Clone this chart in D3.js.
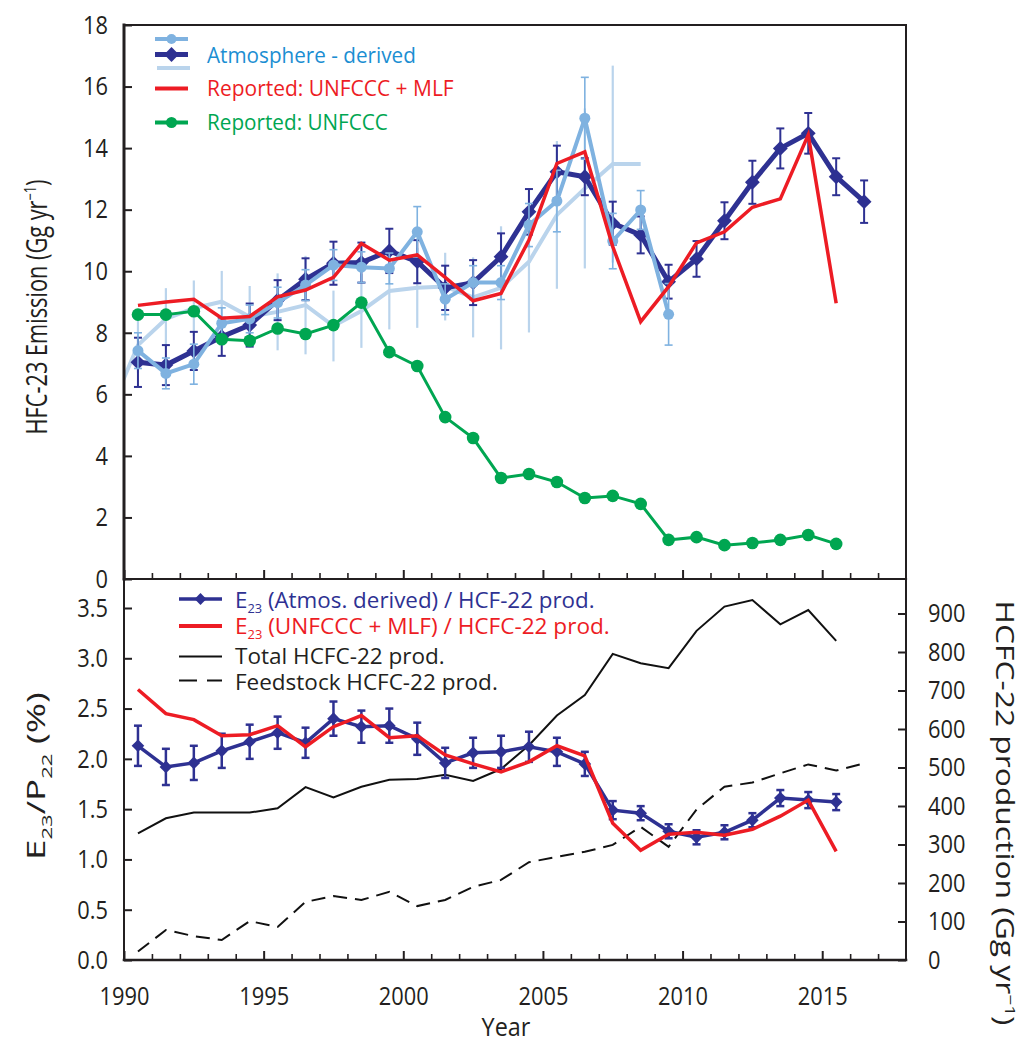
<!DOCTYPE html>
<html><head><meta charset="utf-8">
<script src="https://cdn.jsdelivr.net/npm/d3@7/dist/d3.min.js"></script>
<style>body{margin:0;background:#fff}</style>
</head><body>
<svg id="c" width="1022" height="1044"></svg>
<script>
// ---------------- DATA ----------------
// Upper panel: HFC-23 emissions (Gg/yr); value for a year is plotted at mid-year
const yearsAtmos = d3.range(1990, 2017);
const atmosDerived = [7.04,6.95,7.41,7.87,8.25,9.06,9.74,10.26,10.28,10.66,10.31,9.46,9.63,10.47,11.93,13.23,13.07,11.56,11.18,9.66,10.40,11.64,12.89,13.99,14.48,13.07,12.26];
const atmosDerivedErr = [0.8,0.65,0.62,0.62,0.7,0.65,0.68,0.7,0.65,0.72,0.7,0.72,0.73,0.76,0.74,0.85,0.6,0.7,0.6,0.55,0.58,0.6,0.7,0.65,0.66,0.6,0.69];

const yearsAtmos2 = d3.range(1990, 2010);
const atmos2 = [7.42,6.68,6.98,8.31,8.45,8.98,9.55,10.2,10.13,10.09,11.28,9.09,9.63,9.63,11.5,12.28,14.97,10.98,11.99,8.6];
const atmos2Err = [0.58,0.5,0.65,0.5,0.45,0.5,0.5,0.5,0.5,0.5,0.82,0.5,0.55,0.55,0.7,1.0,1.33,0.9,0.63,1.0];

const yearsAtmos3 = d3.range(1989, 2009);
const atmos3 = [5.45,7.6,8.45,8.8,9.01,8.52,8.68,8.9,8.22,8.71,9.36,9.46,9.5,9.15,9.46,10.31,11.83,12.69,13.48,13.48];
const atmos3Err = [null,0.9,1.0,0.9,1.0,1.0,1.25,1.6,1.15,1.2,1.25,1.3,1.1,1.3,2.0,2.3,2.4,2.6,3.2,null];

const yearsReported = d3.range(1990, 2016);
const reportedUnfcccMlf = [8.89,9.0,9.09,8.47,8.53,9.17,9.39,9.80,10.9,10.36,10.53,9.80,9.04,9.28,11.01,13.5,13.88,10.8,8.36,9.5,10.92,11.28,12.08,12.35,14.43,8.96];
const reportedUnfccc = [8.59,8.59,8.70,7.79,7.74,8.14,7.96,8.25,8.98,7.37,6.92,5.26,4.58,3.28,3.41,3.15,2.63,2.70,2.44,1.27,1.36,1.10,1.17,1.27,1.43,1.14];

// Lower panel: E23/P22 (%) and HCFC-22 production (Gg/yr)
const yearsRatio = d3.range(1990, 2016);
const ratioAtmos = [2.13,1.92,1.96,2.08,2.17,2.26,2.16,2.40,2.32,2.33,2.20,1.96,2.06,2.07,2.12,2.07,1.95,1.49,1.46,1.28,1.22,1.27,1.39,1.61,1.59,1.57];
const ratioAtmosErr = [0.2,0.18,0.17,0.17,0.17,0.16,0.15,0.17,0.16,0.17,0.16,0.15,0.15,0.16,0.15,0.14,0.12,0.09,0.07,0.07,0.07,0.07,0.07,0.08,0.08,0.08];
const ratioReported = [2.69,2.45,2.39,2.23,2.24,2.33,2.12,2.32,2.43,2.21,2.23,2.04,1.95,1.87,1.97,2.13,2.03,1.36,1.09,1.25,1.27,1.24,1.30,1.43,1.59,1.08];
const yearsTotal = d3.range(1990, 2016);
const totalProd = [329,368,383,383,383,394,449,422,450,468,470,481,465,496,558,635,688,795,771,758,855,918,935,872,909,829];
const yearsFeed = d3.range(1990, 2017);
const feedstockProd = [22,78,62,52,101,86,151,166,156,177,140,156,190,208,254,268,281,299,346,294,391,450,461,485,508,492,511];

const topTicks = d3.range(0, 19, 2);
const ratioTicks = [0, 0.5, 1.0, 1.5, 2.0, 2.5, 3.0, 3.5];
const prodTicks = d3.range(0, 901, 100);
const yearLabels = [1990, 1995, 2000, 2005, 2010, 2015];

// ---------------- SETUP ----------------
const FONT = "'Open Sans','Noto Sans',sans-serif";
const C = {dark:'#2e3192', light:'#7fb2e0', pale:'#bad4ec', red:'#ed1c24', green:'#00a651', ink:'#231f20', legBlue:'#1b8ed2'};
const svg = d3.select('#c');
svg.append('rect').attr('width',1022).attr('height',1044).attr('fill','#fff');

const x = d3.scaleLinear().domain([1990, 2018]).range([124, 906]);
const mid = yr => x(yr + 0.5);
const yT = d3.scaleLinear().domain([0, 18]).range([579, 25]);
const yB = d3.scaleLinear().domain([0, 3.5]).range([960, 608]);
const yR = d3.scaleLinear().domain([0, 900]).range([960, 613.5]);

const defs = svg.append('defs');
defs.append('clipPath').attr('id','clipTop').append('rect')
  .attr('x', x(1990)).attr('y', yT(18)).attr('width', x(2018)-x(1990)).attr('height', yT(0)-yT(18));

const zip = (yrs, vals, errs) => yrs.map((yr,i)=>({yr, v:vals[i], e: errs ? errs[i] : null}));

function putText(parent, o, build) {
  const g = parent.append('g');
  const t = g.append('text').attr('font-family', FONT).attr('font-size', o.size)
    .attr('fill', o.color || C.ink).attr('text-anchor', o.anchor || 'start');
  build(t);
  let k = o.k || 1;
  if (o.target) k = o.target / t.node().getBBox().width;
  g.attr('transform', `translate(${o.x},${o.y}) rotate(${o.rot||0}) scale(${k},1)`);
  return g;
}

function errBars(g, data, yS, color, w, cap) {
  const d = data.filter(p => p.e != null);
  g.selectAll(null).data(d).join('line')
    .attr('x1', p=>mid(p.yr)).attr('x2', p=>mid(p.yr))
    .attr('y1', p=>yS(p.v+p.e)).attr('y2', p=>yS(p.v-p.e))
    .attr('stroke', color).attr('stroke-width', w);
  if (cap) {
    ['+','-'].forEach(s => {
      g.selectAll(null).data(d).join('line')
        .attr('x1', p=>mid(p.yr)-cap).attr('x2', p=>mid(p.yr)+cap)
        .attr('y1', p=>yS(s==='+'?p.v+p.e:p.v-p.e)).attr('y2', p=>yS(s==='+'?p.v+p.e:p.v-p.e))
        .attr('stroke', color).attr('stroke-width', w);
    });
  }
}
function linePath(g, data, yS, color, w, dash) {
  const p = g.append('path').datum(data)
    .attr('d', d3.line().x(p=>mid(p.yr)).y(p=>yS(p.v)))
    .attr('fill','none').attr('stroke', color).attr('stroke-width', w)
    .attr('stroke-linejoin','miter').attr('stroke-linecap','butt');
  if (dash) p.attr('stroke-dasharray', dash);
  return p;
}
const diamond = size => d3.symbol().type(d3.symbolSquare).size(size)();
function diamonds(g, data, yS, color, size) {
  g.selectAll(null).data(data).join('path').attr('d', diamond(size))
    .attr('transform', p=>`translate(${mid(p.yr)},${yS(p.v)}) rotate(45)`).attr('fill', color);
}
function circles(g, data, yS, color, r) {
  g.selectAll(null).data(data).join('circle').attr('cx', p=>mid(p.yr)).attr('cy', p=>yS(p.v)).attr('r', r).attr('fill', color);
}

// ---------------- UPPER PANEL ----------------
const up = svg.append('g').attr('clip-path','url(#clipTop)');
const dAtm = zip(yearsAtmos, atmosDerived, atmosDerivedErr);
const dAtm2 = zip(yearsAtmos2, atmos2, atmos2Err);
const dAtm3 = zip(yearsAtmos3, atmos3, atmos3Err);
errBars(up, dAtm3, yT, C.pale, 2.2, 0);
linePath(up, dAtm3, yT, C.pale, 4);
errBars(up, dAtm, yT, C.dark, 2, 4);
linePath(up, dAtm, yT, C.dark, 5);
diamonds(up, dAtm, yT, C.dark, 110);
errBars(up, dAtm2, yT, C.light, 1.6, 4);
linePath(up, dAtm2, yT, C.light, 4);
circles(up, dAtm2, yT, C.light, 5.5);
linePath(up, zip(yearsReported, reportedUnfcccMlf), yT, C.red, 3.5);
const dGreen = zip(yearsReported, reportedUnfccc);
linePath(up, dGreen, yT, C.green, 3);
circles(up, dGreen, yT, C.green, 6.3);

// ---------------- LOWER PANEL ----------------
const lo = svg.append('g');
linePath(lo, zip(yearsTotal, totalProd), yR, '#111', 2);
linePath(lo, zip(yearsFeed, feedstockProd), yR, '#111', 2, '14,8');
const dRat = zip(yearsRatio, ratioAtmos, ratioAtmosErr);
errBars(lo, dRat, yB, C.dark, 2.5, 4);
linePath(lo, dRat, yB, C.dark, 3.5);
diamonds(lo, dRat, yB, C.dark, 80);
linePath(lo, zip(yearsRatio, ratioReported), yB, C.red, 3.5);

// ---------------- AXES ----------------
const TK = 0.84, TFS = 26;
function styleTicks(g, sw) {
  g.attr('font-family', FONT).attr('font-size', TFS).attr('color', C.ink);
  g.select('.domain').remove();
  g.selectAll('.tick line').attr('stroke-width', sw);
  g.selectAll('.tick text').each(function(){
    const t = d3.select(this);
    const xx = +t.attr('x') || 0;
    t.attr('x', xx / TK).attr('transform', `scale(${TK},1)`).attr('fill', C.ink);
  });
}
// upper left
svg.append('g').attr('transform', `translate(${x(1990)},0)`)
  .call(d3.axisLeft(yT).tickValues(topTicks).tickSizeInner(-8).tickSizeOuter(0).tickPadding(16))
  .call(g => styleTicks(g, 2));
// lower left
svg.append('g').attr('transform', `translate(${x(1990)},0)`)
  .call(d3.axisLeft(yB).tickValues(ratioTicks).tickFormat(d3.format('.1f')).tickSizeInner(-8).tickSizeOuter(0).tickPadding(16))
  .call(g => styleTicks(g, 2));
// right
svg.append('g').attr('transform', `translate(${x(2018)},0)`)
  .call(d3.axisRight(yR).tickValues(prodTicks).tickSizeInner(-8).tickSizeOuter(0).tickPadding(22))
  .call(g => styleTicks(g, 2));
// x ticks on both panels
function xTicks(yPos, labels) {
  const minor = d3.range(1991, 2018).filter(v => v % 5 !== 0);
  svg.append('g').attr('transform', `translate(0,${yPos})`)
    .call(d3.axisBottom(x).tickValues(minor).tickSizeInner(-6).tickSizeOuter(0).tickFormat(''))
    .call(g => styleTicks(g, 1.6));
  svg.append('g').attr('transform', `translate(0,${yPos})`)
    .call(d3.axisBottom(x).tickValues(yearLabels).tickSizeInner(-9).tickSizeOuter(0).tickPadding(27)
      .tickFormat(labels ? d3.format('d') : ''))
    .call(g => styleTicks(g, 2));
}
xTicks(yT(0), false);
xTicks(yB(0), true);

// frame
const fr = svg.append('g').attr('stroke', C.ink).attr('fill','none').attr('stroke-linecap','square');
fr.append('line').attr('x1', x(1990)).attr('x2', x(1990)).attr('y1', yT(18)).attr('y2', yT(0)).attr('stroke-width', 3);
fr.append('line').attr('x1', x(1990)).attr('x2', x(1990)).attr('y1', yT(0)).attr('y2', yB(0)).attr('stroke-width', 2);
fr.append('line').attr('x1', x(1990)).attr('x2', x(2018)).attr('y1', yT(18)).attr('y2', yT(18)).attr('stroke-width', 2);
fr.append('line').attr('x1', x(1990)).attr('x2', x(2018)).attr('y1', yT(0)).attr('y2', yT(0)).attr('stroke-width', 2.2);
fr.append('line').attr('x1', x(1990)).attr('x2', x(2018)).attr('y1', yB(0)).attr('y2', yB(0)).attr('stroke-width', 2.6);
fr.append('line').attr('x1', x(2018)).attr('x2', x(2018)).attr('y1', yT(18)).attr('y2', yB(0)).attr('stroke-width', 2);

// axis titles
putText(svg, {x:47, y:307, rot:-90, size:29, anchor:'middle', target:255}, t => {
  t.append('tspan').text('HFC-23 Emission (Gg yr');
  t.append('tspan').attr('font-size', 17).attr('dy', -11).text('−1');
  t.append('tspan').attr('dy', 11).text(')');
});
putText(svg, {x:45, y:776, rot:-90, size:25, anchor:'middle', target:168}, t => {
  t.append('tspan').text('E');
  t.append('tspan').attr('font-size', 15).attr('dy', 7).text('23');
  t.append('tspan').attr('dy', -7).text('/P');
  t.append('tspan').attr('font-size', 15).attr('dy', 7).text('22');
  t.append('tspan').attr('dy', -7).text(' (%)');
});
putText(svg, {x:996, y:813, rot:90, size:25, anchor:'middle', target:425}, t => {
  t.append('tspan').text('HCFC-22 production  (Gg yr');
  t.append('tspan').attr('font-size', 15).attr('dy', -9).text('−1');
  t.append('tspan').attr('dy', 9).text(')');
});
putText(svg, {x:506, y:1036, size:26, anchor:'middle', k:0.9}, t => t.text('Year'));

// ---------------- LEGENDS ----------------
const lg = svg.append('g');
// upper
lg.append('line').attr('x1',155).attr('x2',188).attr('y1',39).attr('y2',39).attr('stroke',C.light).attr('stroke-width',4);
lg.append('circle').attr('cx',171.5).attr('cy',39).attr('r',5).attr('fill',C.light);
lg.append('line').attr('x1',155).attr('x2',188).attr('y1',54.5).attr('y2',54.5).attr('stroke',C.dark).attr('stroke-width',5);
lg.append('path').attr('d', diamond(110)).attr('transform','translate(171.5,54.5) rotate(45)').attr('fill',C.dark);
lg.append('line').attr('x1',157).attr('x2',190).attr('y1',68).attr('y2',68).attr('stroke',C.pale).attr('stroke-width',4);
putText(lg, {x:207, y:63, size:21, color:C.legBlue, target:209}, t => t.text('Atmosphere - derived'));
lg.append('line').attr('x1',155).attr('x2',188).attr('y1',88.5).attr('y2',88.5).attr('stroke',C.red).attr('stroke-width',4);
putText(lg, {x:207, y:96, size:21, color:C.red, target:247}, t => t.text('Reported: UNFCCC + MLF'));
lg.append('line').attr('x1',155).attr('x2',188).attr('y1',122.5).attr('y2',122.5).attr('stroke',C.green).attr('stroke-width',4);
lg.append('circle').attr('cx',171.5).attr('cy',122.5).attr('r',5.5).attr('fill',C.green);
putText(lg, {x:207, y:130, size:21, color:C.green, target:181}, t => t.text('Reported: UNFCCC'));

// lower
lg.append('line').attr('x1',179).attr('x2',222).attr('y1',599).attr('y2',599).attr('stroke',C.dark).attr('stroke-width',3.5);
lg.append('path').attr('d', diamond(70)).attr('transform','translate(200.5,599) rotate(45)').attr('fill',C.dark);
putText(lg, {x:235, y:608, size:21, color:C.dark, target:360}, t => {
  t.append('tspan').text('E');
  t.append('tspan').attr('font-size', 12).attr('dy', 5).text('23');
  t.append('tspan').attr('dy', -5).text(' (Atmos. derived) / HCF-22 prod.');
});
lg.append('line').attr('x1',179).attr('x2',222).attr('y1',626).attr('y2',626).attr('stroke',C.red).attr('stroke-width',4);
putText(lg, {x:235, y:634, size:21, color:C.red, target:375}, t => {
  t.append('tspan').text('E');
  t.append('tspan').attr('font-size', 12).attr('dy', 5).text('23');
  t.append('tspan').attr('dy', -5).text(' (UNFCCC + MLF) / HCFC-22 prod.');
});
lg.append('line').attr('x1',179).attr('x2',222).attr('y1',656.5).attr('y2',656.5).attr('stroke','#111').attr('stroke-width',2);
putText(lg, {x:235, y:664, size:21, color:C.ink, target:210}, t => t.text('Total HCFC-22 prod.'));
lg.append('line').attr('x1',179).attr('x2',222).attr('y1',680.5).attr('y2',680.5).attr('stroke','#111').attr('stroke-width',2).attr('stroke-dasharray','18,10');
putText(lg, {x:235, y:690, size:21, color:C.ink, target:263}, t => t.text('Feedstock HCFC-22 prod.'));
</script>
</body></html>
